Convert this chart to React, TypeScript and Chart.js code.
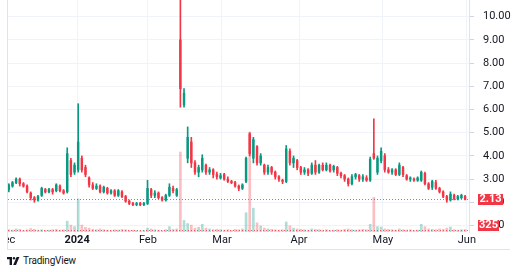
import React, { useEffect, useRef } from 'react';
import { Chart, registerables } from 'chart.js';
Chart.register(...registerables);

// ---- data (trading-day index, USD) ----
const opens = [2.55,2.7,2.85,3.0,2.8,2.7,2.4,2.2,2.1,2.3,2.55,2.45,2.55,2.5,2.7,2.5,2.45,3.8,3.3,3.4,3.9,3.5,3.05,2.75,2.6,2.7,2.45,2.6,2.4,2.5,2.3,2.45,2.25,2.05,1.95,1.9,1.95,1.9,1.95,2.55,2.3,2.4,2.2,2.1,2.3,2.6,2.3,9.0,6.2,3.9,4.6,3.7,3.3,3.4,3.6,3.3,3.4,3.2,3.05,3.2,3.0,2.9,2.85,2.7,2.6,2.9,4.95,3.9,4.4,3.7,3.6,3.3,3.5,3.3,3.1,2.95,2.9,4.2,3.7,3.8,3.5,3.3,3.4,3.25,3.6,3.3,3.6,3.4,3.6,3.4,3.5,3.25,3.15,3.0,2.8,3.1,3.15,3.0,3.05,2.95,4.1,3.3,3.8,4.0,3.4,3.3,3.4,3.2,3.5,3.15,3.0,3.0,2.95,2.95,3.25,2.8,2.65,2.85,2.6,2.45,2.25,2.1,2.3,2.15,2.2,2.25];
const highs = [2.8,2.9,3.05,3.05,2.85,2.75,2.45,2.25,2.3,2.65,2.6,2.6,2.6,2.8,2.75,2.55,4.35,3.9,3.7,6.25,4.0,3.6,3.1,2.85,2.8,2.75,2.7,2.65,2.55,2.55,2.55,2.5,2.3,2.1,2.0,2.0,2.0,2.0,2.95,2.6,2.5,2.45,2.25,2.35,2.8,2.7,2.6,11.5,6.9,5.25,4.8,3.8,3.6,4.05,3.65,3.5,3.45,3.3,3.25,3.25,3.1,2.95,2.9,2.75,2.8,3.95,5.0,4.8,4.45,4.1,3.65,3.6,3.55,3.35,3.15,3.0,4.45,4.3,4.0,3.85,3.55,3.5,3.45,3.7,3.8,3.65,3.7,3.7,3.65,3.6,3.55,3.3,3.2,3.05,3.2,3.25,3.2,3.2,3.15,3.95,5.6,4.0,4.35,4.1,3.5,3.45,3.45,3.7,3.55,3.2,3.1,3.05,3.1,3.35,3.3,2.85,2.95,2.95,2.65,2.5,2.3,2.45,2.35,2.3,2.35,2.3];
const lows = [2.45,2.65,2.8,2.7,2.65,2.4,2.1,2.0,2.05,2.25,2.4,2.4,2.35,2.45,2.45,2.35,2.4,3.1,3.2,3.3,3.3,3.1,2.65,2.55,2.55,2.4,2.4,2.35,2.35,2.25,2.25,2.2,2.0,1.9,1.85,1.85,1.85,1.85,1.9,2.2,2.2,2.15,2.05,2.05,2.25,2.4,2.25,6.1,6.1,3.7,3.5,3.2,3.1,3.3,3.2,3.2,3.05,3.0,3.0,2.95,2.85,2.8,2.65,2.5,2.55,2.85,4.0,3.7,3.6,3.6,3.2,3.2,3.2,3.0,2.9,2.8,2.85,3.6,3.5,3.4,3.2,3.2,3.15,3.2,3.2,3.25,3.35,3.35,3.3,3.3,3.15,3.05,2.9,2.7,2.75,3.0,2.9,2.9,2.9,2.9,3.85,3.2,3.7,3.3,3.25,3.2,3.15,3.15,3.1,2.95,2.9,2.9,2.9,2.9,2.75,2.55,2.55,2.55,2.4,2.2,2.0,2.05,2.1,2.1,2.15,2.1];
const closes = [2.75,2.85,3.0,2.8,2.7,2.45,2.2,2.1,2.25,2.6,2.45,2.55,2.45,2.75,2.5,2.4,4.1,3.2,3.6,4.6,3.4,3.2,2.75,2.6,2.7,2.45,2.65,2.4,2.5,2.3,2.5,2.25,2.05,1.95,1.9,1.95,1.9,1.95,2.6,2.3,2.4,2.2,2.1,2.3,2.65,2.5,2.55,6.9,6.7,4.8,3.7,3.3,3.5,3.9,3.3,3.4,3.2,3.1,3.15,3.0,2.9,2.85,2.7,2.6,2.75,3.9,4.1,4.7,3.7,4.0,3.3,3.5,3.3,3.1,3.0,2.9,4.3,3.7,3.9,3.5,3.3,3.4,3.25,3.6,3.3,3.6,3.4,3.6,3.35,3.55,3.25,3.15,3.0,2.8,3.1,3.2,3.0,3.1,2.95,3.85,3.9,3.9,4.2,3.4,3.3,3.4,3.2,3.6,3.2,3.0,3.05,2.95,3.05,3.3,2.8,2.6,2.9,2.6,2.45,2.25,2.1,2.35,2.15,2.25,2.3,2.13];
const volumes = [300,250,400,350,200,300,450,350,250,300,200,250,300,350,250,300,1400,900,700,4300,900,600,500,350,300,400,300,250,200,300,250,350,300,200,250,200,150,200,500,400,300,250,200,300,700,350,400,10400,1500,1100,900,500,600,1000,500,400,300,350,300,250,300,200,350,300,400,2500,13000,3100,1200,800,500,400,350,300,250,300,1300,800,500,400,350,300,250,400,350,300,250,300,200,250,300,250,350,400,300,250,300,350,300,1000,4500,700,650,400,350,300,250,400,300,250,300,200,250,1000,700,400,350,300,400,350,500,650,300,250,300,325];
const monthTicks = [-0.8, 18.7, 38.1, 58.4, 79.5, 102.5, 125.5];
const monthLabels = ['Dec', '2024', 'Feb', 'Mar', 'Apr', 'May', 'Jun'];
const priceTicks = [1, 2, 3, 4, 5, 6, 7, 8, 9, 10];

// ---- styling / layout ----
const UP = '#089981';
const DOWN = '#f23645';
const UP_VOL = 'rgba(8,153,129,0.32)';
const DOWN_VOL = 'rgba(242,54,69,0.32)';
const GRID = '#f0f3fa';
const TEXT = '#131722';
const FONT = 'Roboto, "Liberation Sans", sans-serif';
const OFF = 20;
const FRAME_W = 513;
const CANVAS_H = 249;
const AXIS_W = 51;
const X_AXIS_H = 17;
const PX_PER_BAR = 3.65;
const VIS_MIN = -0.5;
const VIS_MAX = VIS_MIN + (FRAME_W - AXIS_W) / PX_PER_BAR;
const X_MIN = VIS_MIN - OFF / PX_PER_BAR;

const candleColor = (i: number) => (closes[i] >= opens[i] ? UP : DOWN);

const lastValuePlugin = {
  id: 'lastValue',
  afterDatasetsDraw(chart: any) {
    const { ctx, chartArea, scales } = chart;
    const n = closes.length - 1;
    ctx.save();
    ctx.strokeStyle = candleColor(n);
    ctx.globalAlpha = 0.8;
    ctx.lineWidth = 1;
    ctx.setLineDash([1, 2]);
    const py = Math.round(scales.y.getPixelForValue(closes[n])) + 0.5;
    ctx.beginPath();
    ctx.moveTo(chartArea.left, py);
    ctx.lineTo(chartArea.right, py);
    ctx.stroke();
    const vy = Math.round(scales.yv.getPixelForValue(volumes[n])) + 0.5;
    ctx.beginPath();
    ctx.moveTo(chartArea.left, vy);
    ctx.lineTo(chartArea.right, vy);
    ctx.stroke();
    ctx.restore();
  },
  afterDraw(chart: any) {
    const { ctx, chartArea, scales } = chart;
    const n = closes.length - 1;
    const x0 = scales.y.left + 9;
    const drawBox = (y: number, text: string, w: number) => {
      const h = 11;
      ctx.fillStyle = candleColor(n);
      ctx.fillRect(x0, Math.round(y - h / 2), w, h);
      ctx.fillStyle = '#ffffff';
      ctx.font = `bold 11px ${FONT}`;
      ctx.textAlign = 'center';
      ctx.textBaseline = 'middle';
      ctx.fillText(text, x0 + w / 2, Math.round(y) + 0.5);
    };
    ctx.save();
    drawBox(scales.y.getPixelForValue(closes[n]), closes[n].toFixed(2), 25);
    const vy = Math.min(scales.yv.getPixelForValue(volumes[n]), chartArea.bottom - 7);
    drawBox(vy, String(volumes[n]), 21);
    ctx.restore();
  },
};

function TVLogo() {
  return (
    <svg width="13" height="8" viewBox="0 0 13 8" style={{ display: 'block' }}>
      <path d="M0 0H5V8H2.6V2.3H0Z" fill={TEXT} />
      <circle cx="7" cy="1.2" r="1.2" fill={TEXT} />
      <path d="M6.2 8L9.6 0H12.4L9 8Z" fill={TEXT} />
    </svg>
  );
}

export default function App() {
  const ref = useRef<HTMLCanvasElement>(null);
  useEffect(() => {
    if (!ref.current) return;
    const idx = closes.map((_, i) => i);
    const chart = new Chart(ref.current, {
      type: 'bar',
      data: {
        datasets: [
          {
            label: 'Volume',
            yAxisID: 'yv',
            data: idx.map((i) => ({ x: i, y: volumes[i] })) as any,
            backgroundColor: idx.map((i) => (closes[i] >= opens[i] ? UP_VOL : DOWN_VOL)),
            barThickness: 2,
            grouped: false,
            order: 3,
          } as any,
          {
            label: 'Wick',
            yAxisID: 'y',
            data: idx.map((i) => ({ x: i, y: [lows[i], highs[i]] })) as any,
            backgroundColor: idx.map(candleColor),
            barThickness: 1,
            grouped: false,
            order: 2,
          } as any,
          {
            label: 'Body',
            yAxisID: 'y',
            data: idx.map((i) => ({ x: i, y: [opens[i], closes[i]] })) as any,
            backgroundColor: idx.map(candleColor),
            barThickness: 1.8,
            minBarLength: 1,
            grouped: false,
            order: 1,
          } as any,
        ],
      },
      options: {
        responsive: false,
        animation: false,
        events: [],
        devicePixelRatio: 1,
        layout: { padding: 0 },
        plugins: { legend: { display: false }, tooltip: { enabled: false } },
        scales: {
          x: {
            type: 'linear',
            min: X_MIN,
            max: VIS_MAX,
            offset: false,
            grid: { color: GRID, drawTicks: false, offset: false },
            border: { display: false },
            afterBuildTicks: (s: any) => {
              s.ticks = monthTicks.map((v) => ({ value: v }));
            },
            afterFit: (s: any) => {
              s.height = X_AXIS_H;
              s.paddingLeft = 0;
              s.paddingRight = 0;
            },
            ticks: {
              autoSkip: false,
              maxRotation: 0,
              padding: 2,
              color: TEXT,
              font: (c: any) => ({
                family: FONT,
                size: 11,
                weight: monthLabels[c.index] === '2024' ? 'bold' : 'normal',
              }),
              callback: (_v: any, i: number) => monthLabels[i],
            },
          } as any,
          y: {
            position: 'right',
            min: 0.72,
            max: 10.72,
            afterFit: (s: any) => {
              s.width = AXIS_W;
              s.paddingTop = 0;
              s.paddingBottom = 0;
            },
            afterBuildTicks: (s: any) => {
              s.ticks = priceTicks.map((v) => ({ value: v }));
            },
            grid: { color: GRID, tickLength: 5, tickColor: '#d1d4dc' },
            border: { display: true, color: '#e0e3eb' },
            ticks: {
              padding: 9,
              color: TEXT,
              font: { family: FONT, size: 11 },
              callback: (v: any) => Number(v).toFixed(2),
            },
          } as any,
          yv: {
            display: false,
            min: 0,
            max: 30160,
            grid: { display: false },
          },
        },
      },
      plugins: [lastValuePlugin],
    });
    return () => chart.destroy();
  }, []);

  return (
    <div style={{ position: 'fixed', left: 0, top: 0, width: 520, height: 272, background: '#fff', overflow: 'hidden', fontFamily: FONT }}>
      <div style={{ position: 'absolute', left: 7, top: 0, width: FRAME_W, height: CANVAS_H, overflow: 'hidden' }}>
        <canvas
          ref={ref}
          width={FRAME_W + OFF}
          height={CANVAS_H}
          style={{ position: 'absolute', left: -OFF, top: 0, width: FRAME_W + OFF, height: CANVAS_H }}
        />
      </div>
      <div style={{ position: 'absolute', left: 7, top: 0, width: 1, height: CANVAS_H, background: '#e0e3eb' }} />
      <div style={{ position: 'absolute', left: 7, top: CANVAS_H, width: 503, height: 1, background: '#e0e3eb' }} />
      <div style={{ position: 'absolute', left: 7, top: 256, display: 'flex', alignItems: 'center', gap: 3 }}>
        <TVLogo />
        <span style={{ fontSize: 10, color: TEXT, lineHeight: '10px', letterSpacing: -0.2 }}>TradingView</span>
      </div>
    </div>
  );
}
